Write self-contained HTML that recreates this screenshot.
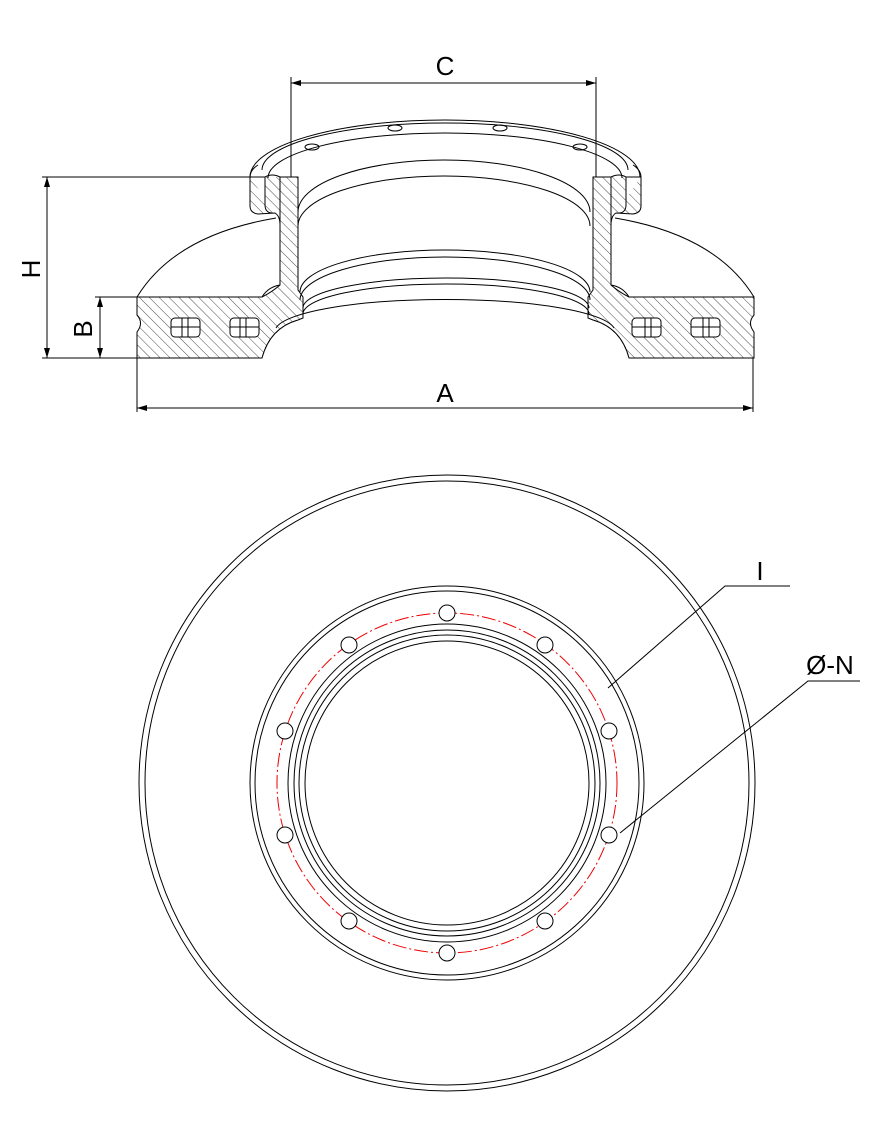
<!DOCTYPE html>
<html><head><meta charset="utf-8"><style>html,body{margin:0;padding:0;background:#fff}svg{display:block}</style></head>
<body>
<svg width="896" height="1129" viewBox="0 0 896 1129" xmlns="http://www.w3.org/2000/svg" font-family="Liberation Sans, sans-serif">
<defs>
<pattern id="h" patternUnits="userSpaceOnUse" width="7" height="7" patternTransform="rotate(-45)"><line x1="0" y1="0" x2="0" y2="7" stroke="#000" stroke-width="0.7"/></pattern>
<pattern id="h2" patternUnits="userSpaceOnUse" width="7" height="7" patternTransform="rotate(45)"><line x1="0" y1="0" x2="0" y2="7" stroke="#000" stroke-width="0.7"/></pattern>
<marker id="ar" markerWidth="10" markerHeight="6" refX="10" refY="3" orient="auto-start-reverse" markerUnits="userSpaceOnUse"><path d="M0,0 L10,3 L0,6 z" fill="#000"/></marker>
</defs>
<g fill="none" stroke="#000" stroke-width="1">
<path d="M250,177 A195,57 0 0 1 640,177"/>
<path d="M262,170 A183,47 0 0 1 628,170"/>
<path d="M268,178 A177,45 0 0 1 622,178"/>
<path d="M298,212 A146,52 0 0 1 590,212"/>
<path d="M298,226 A146,50 0 0 1 590,226"/>
<path d="M300,292 A145,42 0 0 1 590,292"/>
<path d="M300,300 A145,43 0 0 1 590,300"/>
<path d="M303,308 A143,30 0 0 1 589,308"/>
<path d="M303,314 A143,30 0 0 1 589,314"/>
<path d="M276,328 A170,32 0 0 1 614,328"/>
<ellipse cx="312" cy="147" rx="7" ry="3"/>
<ellipse cx="395" cy="128" rx="7" ry="3"/>
<ellipse cx="500" cy="128" rx="7" ry="3"/>
<ellipse cx="580" cy="147" rx="7" ry="3"/>
<g>
<path d="M137,297 Q175,235 276,218"/>
<path d="M250,177 Q250,170 258,165"/>
<path d="M262,297 Q268,287 280,285"/>
<path d="M280,177 L298,177 L298,290 L303,297 L303,318 L298,320 Q270,328 262,358 L137,358 L137,332 Q144,323 137,315 L137,297 L262,297 Q272,292 280,285 Z" fill="url(#h)"/>
<path d="M250,177 L265,177 L265,205 Q265,214 275,213 Q280,216 280,225 L280,177 M250,177 L250,206 Q250,213 258,214 L275,213" fill="url(#h)"/>
<path d="M265,177 Q272,173 280,177"/>
<rect x="171" y="318" width="29" height="19" rx="4" fill="#fff"/>
<line x1="182" y1="318" x2="182" y2="337"/><line x1="188" y1="318" x2="188" y2="337"/><line x1="171" y1="327" x2="200" y2="327"/>
<rect x="230" y="318" width="29" height="19" rx="4" fill="#fff"/>
<line x1="240" y1="318" x2="240" y2="337"/><line x1="246" y1="318" x2="246" y2="337"/><line x1="230" y1="327" x2="259" y2="327"/>
</g>
<g transform="translate(891,0) scale(-1,1)">
<path d="M137,297 Q175,235 276,218"/>
<path d="M250,177 Q250,170 258,165"/>
<path d="M262,297 Q268,287 280,285"/>
<path d="M280,177 L298,177 L298,290 L303,297 L303,318 L298,320 Q270,328 262,358 L137,358 L137,332 Q144,323 137,315 L137,297 L262,297 Q272,292 280,285 Z" fill="url(#h2)"/>
<path d="M250,177 L265,177 L265,205 Q265,214 275,213 Q280,216 280,225 L280,177 M250,177 L250,206 Q250,213 258,214 L275,213" fill="url(#h2)"/>
<path d="M265,177 Q272,173 280,177"/>
<rect x="171" y="318" width="29" height="19" rx="4" fill="#fff"/>
<line x1="182" y1="318" x2="182" y2="337"/><line x1="188" y1="318" x2="188" y2="337"/><line x1="171" y1="327" x2="200" y2="327"/>
<rect x="230" y="318" width="29" height="19" rx="4" fill="#fff"/>
<line x1="240" y1="318" x2="240" y2="337"/><line x1="246" y1="318" x2="246" y2="337"/><line x1="230" y1="327" x2="259" y2="327"/>
</g>
<line x1="291" y1="77" x2="291" y2="177"/><line x1="596" y1="77" x2="596" y2="177"/>
<line x1="291" y1="83" x2="596" y2="83" marker-start="url(#ar)" marker-end="url(#ar)"/>
<line x1="42" y1="177" x2="250" y2="177"/><line x1="42" y1="358" x2="137" y2="358"/>
<line x1="47" y1="177" x2="47" y2="358" marker-start="url(#ar)" marker-end="url(#ar)"/>
<line x1="95" y1="297" x2="137" y2="297"/>
<line x1="100" y1="297" x2="100" y2="358" marker-start="url(#ar)" marker-end="url(#ar)"/>
<line x1="137" y1="358" x2="137" y2="412"/><line x1="753" y1="358" x2="753" y2="412"/>
<line x1="137" y1="408" x2="753" y2="408" marker-start="url(#ar)" marker-end="url(#ar)"/>
<circle cx="447" cy="783" r="308"/>
<circle cx="447" cy="783" r="302"/>
<circle cx="447" cy="783" r="197"/>
<circle cx="447" cy="783" r="192"/>
<circle cx="447" cy="783" r="159"/>
<circle cx="447" cy="783" r="153"/>
<circle cx="447" cy="783" r="148"/>
<circle cx="447" cy="783" r="142"/>
<circle cx="447" cy="783" r="170" stroke="#e00" stroke-dasharray="14 3 2 3"/>
<g fill="#fff">
<circle cx="447" cy="613" r="8"/><circle cx="447" cy="953" r="8"/>
<circle cx="349" cy="645" r="8"/><circle cx="545" cy="645" r="8"/>
<circle cx="349" cy="921" r="8"/><circle cx="545" cy="921" r="8"/>
<circle cx="285" cy="731" r="8"/><circle cx="609" cy="731" r="8"/>
<circle cx="285" cy="835" r="8"/><circle cx="609" cy="835" r="8"/>
</g>
<path d="M608,688 L725,586 L790,586" />
<path d="M620,833 L808,681 L860,681" />
</g>
<g font-size="26" fill="#000" text-anchor="middle">
<text x="445" y="75">C</text>
<text x="445" y="402">A</text>
<text x="40" y="269" transform="rotate(-90 40 269)">H</text>
<text x="92" y="329" transform="rotate(-90 92 329)">B</text>
<text x="760" y="580">I</text>
<text x="830" y="674">Ø-N</text>
</g>
</svg>
</body></html>
